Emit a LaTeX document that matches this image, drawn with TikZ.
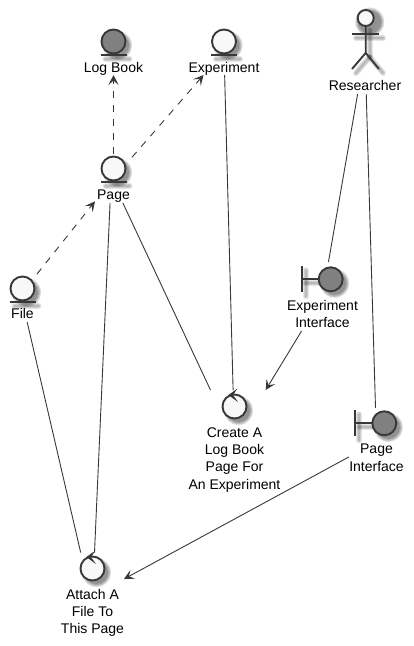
\documentclass[tikz,border=0pt]{standalone}
\usepackage{fontspec}
\setmainfont{Liberation Sans}
\usetikzlibrary{arrows.meta}
\definecolor{ink}{HTML}{383838}
\definecolor{darkfill}{HTML}{808080}
\definecolor{lightfill}{HTML}{F8F8F8}
\tikzset{
  icon/.style={circle,draw=ink,line width=1.9pt,minimum size=24pt,inner sep=0pt,outer sep=0pt},
  dark/.style={icon,fill=darkfill},
  light/.style={icon,fill=lightfill},
  stroke/.style={draw=ink,line width=1.9pt},
  lbl/.style={anchor=north,align=center,inner sep=0pt,outer sep=0pt,text=black,font=\fontsize{14}{17.4}\selectfont},
  wrap/.style={rectangle,inner sep=0pt,outer sep=0pt},
  conn/.style={draw=ink,line width=0.9pt},
  arrowed/.style={conn,-{Stealth[length=10pt,width=10pt,inset=4.5pt]}},
  dashline/.style={arrowed,dash pattern=on 7pt off 7pt},
  soft/.style={fill=black,opacity=0.13,draw=none},
  softline/.style={draw=black,opacity=0.1,line cap=round},
  ctrlhead/.style={fill=ink,draw=ink,line width=0.7pt,line join=miter}
}
\newcommand{\softdisc}[2]{%
  \fill[soft] (#1+4,#2+4) circle (14.5pt);
  \fill[soft] (#1+4,#2+4) circle (13.5pt);
  \fill[soft] (#1+4,#2+4) circle (12.5pt);
  \fill[soft] (#1+4,#2+4) circle (11.5pt);}
\newcommand{\softseg}[4]{%
  \draw[softline,line width=6pt] (#1+4,#2+4) -- (#3+4,#4+4);
  \draw[softline,line width=4pt] (#1+4,#2+4) -- (#3+4,#4+4);
  \draw[softline,line width=2pt] (#1+4,#2+4) -- (#3+4,#4+4);}
\newcommand{\entity}[4]{% name, x, y, style
  \softdisc{#2}{#3}
  \softseg{#2-12}{#3+13.5}{#2+12}{#3+13.5}
  \node[#4] (#1icon) at (#2,#3) {};
  \draw[stroke] (#2-13,#3+13.5) -- (#2+13,#3+13.5);}
\newcommand{\control}[3]{% name, x, y
  \softdisc{#2}{#3}
  \node[light] (#1icon) at (#2,#3) {};
  \path[ctrlhead] (#2-5.5,#3-11.5) -- (#2+1.5,#3-16.5) -- (#2-2,#3-11.5) -- (#2+2,#3-6) -- cycle;}
\newcommand{\boundary}[3]{% name, x, y
  \softseg{#2-29}{#3-13}{#2-29}{#3+13}
  \softseg{#2-29}{#3}{#2-12}{#3}
  \softdisc{#2}{#3}
  \draw[stroke] (#2-29,#3-13) -- (#2-29,#3+13);
  \draw[stroke] (#2-29,#3) -- (#2-12,#3);
  \node[dark] (#1icon) at (#2,#3) {};}
\begin{document}
\begin{tikzpicture}[x=1pt,y=-1pt]
\useasboundingbox (0,0) rectangle (414,646);
% icons
\entity{logbook}{113.5}{41.5}{dark}
\entity{experiment}{224}{41.5}{light}
\entity{page}{113.5}{168.5}{light}
\entity{file}{22.5}{288.5}{light}
\control{create}{234.5}{406.5}
\control{attach}{92.5}{568.5}
\boundary{expint}{330.7}{279.3}
\boundary{pageint}{384.3}{423.3}
% actor
\softdisc{365.7}{18}
\softseg{352}{34}{379}{34}
\softseg{365.7}{26}{365.7}{53}
\softseg{365.7}{53}{352}{69}
\softseg{365.7}{53}{379}{69}
\draw[stroke] (365.7,26) -- (365.7,53) -- (352,69);
\draw[stroke] (365.7,53) -- (379,69);
\draw[stroke] (352,34) -- (379,34);
\node[light,minimum size=16pt] (researchericon) at (365.7,18) {};
% labels
\node[lbl] (logbooklabel) at (113.5,62) {Log Book};
\node[lbl] (experimentlabel) at (224,62) {Experiment};
\node[lbl] (pagelabel) at (113.5,190) {Page};
\node[lbl] (filelabel) at (22.5,308) {File};
\node[lbl] (researcherlabel) at (365,80) {Researcher};
\node[lbl] (expintlabel) at (322.5,300) {Experiment\\Interface};
\node[lbl] (pageintlabel) at (376.5,444) {Page\\Interface};
\node[lbl] (createlabel) at (234.5,427.3) {Create A\\Log Book\\Page For\\An Experiment};
\node[lbl] (attachlabel) at (92.5,589) {Attach A\\File To\\This Page};
% entity extents, used as connector ends
\node[wrap,minimum width=61pt,minimum height=47pt] (logbook) at (113.5,51.5) {};
\node[wrap,minimum width=70pt,minimum height=47pt] (experiment) at (224,51.5) {};
\node[wrap,minimum width=37pt,minimum height=49pt] (page) at (113.5,178.5) {};
\node[wrap,minimum width=29pt,minimum height=48pt] (file) at (22.5,298) {};
\node[wrap,minimum width=74pt,minimum height=85pt] (researcher) at (365,51.5) {};
\node[wrap,minimum width=71pt,minimum height=69pt] (expint) at (322.5,296.5) {};
\node[wrap,minimum width=55pt,minimum height=68pt] (pageint) at (376.5,442) {};
\node[wrap,minimum width=91pt,minimum height=103pt] (create) at (234.5,441.5) {};
\node[wrap,minimum width=59pt,minimum height=85pt] (attach) at (94.5,595) {};
% connectors
\draw[dashline] (page) -- (logbook);
\draw[dashline] (page) -- (experiment);
\draw[dashline] (file.north east) -- (page.231);
\draw[conn] (page.-69) -- (create);
\draw[conn] (experiment) -- (create);
\draw[conn] (researcher) -- (expint);
\draw[conn] (researcher) -- (pageint);
\draw[arrowed] (expint) -- (create);
\draw[arrowed] (pageint) -- (attach);
\draw[conn] (file.-79) -- (attach.108);
\draw[conn] (page.-98) -- (attach.north);
\end{tikzpicture}
\end{document}
